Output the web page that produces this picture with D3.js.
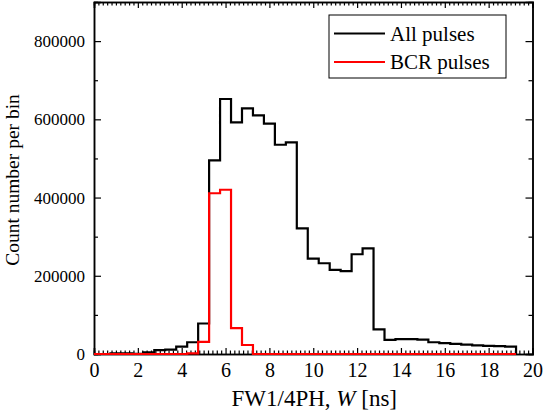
<!DOCTYPE html>
<html>
<head>
<meta charset="utf-8">
<script src="https://cdn.jsdelivr.net/npm/d3@7"></script>
<style>
  body { margin: 0; background: #fff; }
  text { font-family: "Liberation Serif", "Times New Roman", serif; fill: #000; }
</style>
</head>
<body>
<div id="chart"></div>
<script>
// bin centres (ns), bin width 0.5
var binCenters = d3.range(0, 19.01, 0.5);
var allPulses = [0, 0, 1500, 1500, 500, 4000, 10000, 11000, 19000, 30000,
    78000, 495000, 652000, 592000, 628000, 610000, 589000, 535000, 541000, 321000,
    244000, 232000, 215000, 212000, 255000, 270000, 63000, 36000, 38000, 38000,
    37000, 30000, 28000, 26000, 24000, 22000, 21000, 20000, 19000];
var bcrPulses = [0, 0, 0, 0, 0, 0, 0, 0, 0, 1500,
    31000, 411000, 420000, 66000, 23000, 0, 0, 0, 0, 0,
    0, 0, 0, 0, 0, 0, 0, 0, 0, 0,
    0, 0, 0, 0, 0, 0, 0, 0, 0];
var xTicks = [0, 2, 4, 6, 8, 10, 12, 14, 16, 18, 20];
var yTicks = [0, 200000, 400000, 600000, 800000];
var seriesNames = ["All pulses", "BCR pulses"];
var seriesColors = ["#000000", "#ff0000"];

var margin = { top: 2, right: 10.5, bottom: 65, left: 94 },
    width = 543 - margin.left - margin.right,
    height = 419 - margin.top - margin.bottom;

var svg = d3.select("#chart")
    .append("svg")
    .attr("width", 543)
    .attr("height", 419)
    .append("g")
    .attr("transform", "translate(" + margin.left + "," + margin.top + ")");

var x = d3.scaleLinear().domain([0, 20]).range([0, width]);
var y = d3.scaleLinear().domain([0, 900000]).range([height, 0]);

// clip only left/right/top, keep the zero line visible
svg.append("clipPath").attr("id", "clip")
    .append("rect").attr("x", 0).attr("y", 0).attr("width", width).attr("height", height + 3);

// axes: ticks inward, mirrored on top / right
var xMinor = d3.range(0, 20.01, 0.2).filter(function (v) { return Math.abs(v / 2 - Math.round(v / 2)) > 1e-6; });
var yMinor = d3.range(100000, 900000, 200000);

svg.append("g").attr("transform", "translate(0," + height + ")")
    .call(d3.axisBottom(x).tickValues(xTicks).tickSize(-6).tickPadding(8).tickFormat(d3.format("d")))
    .call(function (g) { g.selectAll("text").attr("dy", "0.75em").style("font-size", "20px"); });
svg.append("g").attr("transform", "translate(0," + height + ")")
    .call(d3.axisBottom(x).tickValues(xMinor).tickSize(-3.5).tickFormat(""));
svg.append("g")
    .call(d3.axisTop(x).tickValues(xTicks).tickSize(-6).tickFormat(""));
svg.append("g")
    .call(d3.axisTop(x).tickValues(xMinor).tickSize(-3.5).tickFormat(""));

svg.append("g")
    .call(d3.axisLeft(y).tickValues(yTicks).tickSize(-7).tickPadding(9).tickFormat(d3.format("d")))
    .call(function (g) { g.selectAll("text").style("font-size", "17px"); });
svg.append("g")
    .call(d3.axisLeft(y).tickValues(yMinor).tickSize(-4).tickFormat(""));
svg.append("g").attr("transform", "translate(" + width + ",0)")
    .call(d3.axisRight(y).tickValues(yTicks).tickSize(-7).tickFormat(""));
svg.append("g").attr("transform", "translate(" + width + ",0)")
    .call(d3.axisRight(y).tickValues(yMinor).tickSize(-4).tickFormat(""));

svg.selectAll(".domain").attr("stroke", "#000").attr("stroke-width", 1.5);
svg.selectAll(".tick line").attr("stroke", "#000").attr("stroke-width", 1.2);

// step line through bin edges
var line = d3.line()
    .x(function (d) { return x(d.x); })
    .y(function (d) { return y(d.y); })
    .curve(d3.curveStepAfter);

function stepPoints(vals) {
    var pts = binCenters.map(function (c, i) { return { x: c - 0.25, y: vals[i] }; });
    pts.push({ x: binCenters[binCenters.length - 1] + 0.25, y: 0 });
    return pts;
}

[allPulses, bcrPulses].forEach(function (vals, i) {
    svg.append("path")
        .datum(stepPoints(vals))
        .attr("clip-path", "url(#clip)")
        .attr("fill", "none")
        .attr("stroke", seriesColors[i])
        .attr("stroke-width", 2.2)
        .attr("d", line);
});

// axis titles
var xl = svg.append("text")
    .attr("x", width / 2 + 1)
    .attr("y", height + 52)
    .attr("text-anchor", "middle")
    .style("font-size", "23px");
xl.append("tspan").text("FW1/4PH, ");
xl.append("tspan").style("font-style", "italic").text("W");
xl.append("tspan").text(" [ns]");

svg.append("text")
    .attr("transform", "translate(" + (-75) + "," + (height / 2 + 2) + ") rotate(-90)")
    .attr("text-anchor", "middle")
    .style("font-size", "19.5px")
    .text("Count number per bin");

// legend
var lg = svg.append("g").attr("transform", "translate(" + (329 - margin.left) + "," + (15 - margin.top) + ")");
lg.append("rect")
    .attr("width", 177).attr("height", 63)
    .attr("fill", "#fff").attr("stroke", "#000").attr("stroke-width", 1);
seriesNames.forEach(function (name, i) {
    var yy = 18.5 + i * 28.5;
    lg.append("line")
        .attr("x1", 5).attr("x2", 56).attr("y1", yy).attr("y2", yy)
        .attr("stroke", seriesColors[i]).attr("stroke-width", 2.2);
    lg.append("text")
        .attr("x", 61).attr("y", yy + 7)
        .style("font-size", "21px")
        .text(name);
});
</script>
</body>
</html>
